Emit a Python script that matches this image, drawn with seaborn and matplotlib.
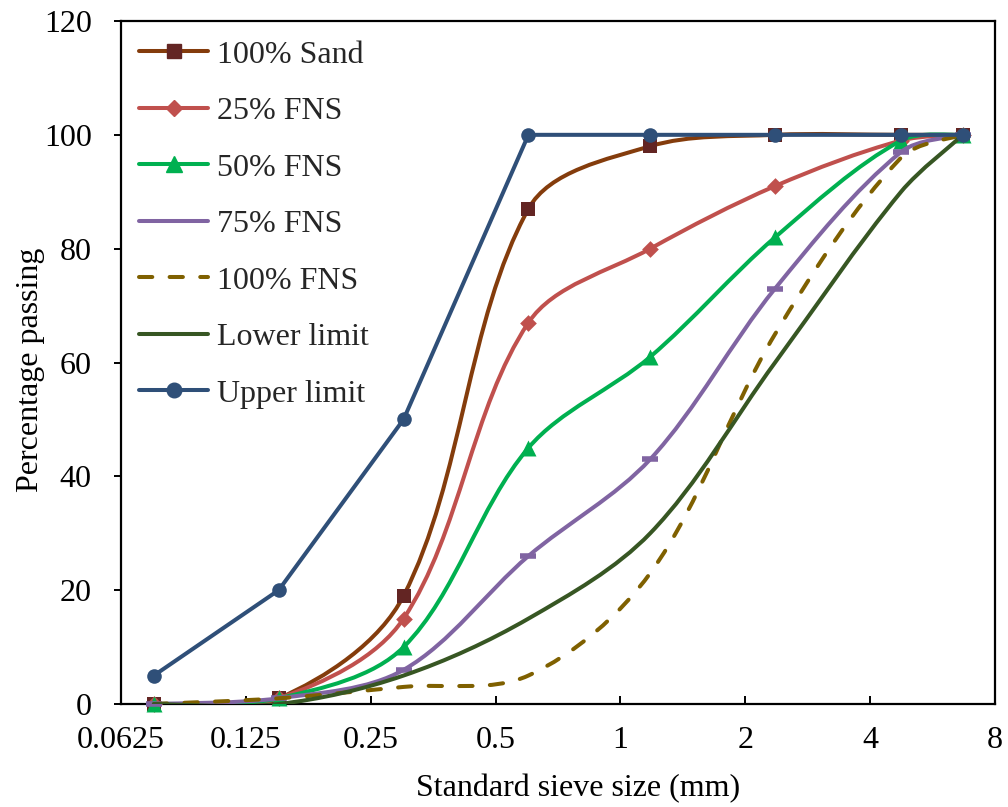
import numpy as np
import pandas as pd
import matplotlib
matplotlib.use("Agg")
import matplotlib.pyplot as plt
from matplotlib.path import Path
from matplotlib.patches import PathPatch
from matplotlib.lines import Line2D
import seaborn as sns

# ---------------- data ----------------
sieve_sizes = [0.075, 0.15, 0.3, 0.6, 1.18, 2.36, 4.75, 6.7]
sand_100 = [0, 1, 19, 87, 98, 100, 100, 100]
fns_25 = [0, 1, 15, 67, 80, 91, 99, 100]
fns_50 = [0, 1, 10, 45, 61, 82, 99, 100]
fns_75 = [0, 1, 6, 26, 43, 73, 97, 100]
fns_100 = [0, 1, 3, 5, 23, 65, 96, 100]
lower_limit = [0, 0, 5, 15, 30, 60, 90, 100]
upper_limit = [5, 20, 50, 100, 100, 100, 100, 100]

series_names = ["100% Sand", "25% FNS", "50% FNS", "75% FNS", "100% FNS",
                "Lower limit", "Upper limit"]
series_values = [sand_100, fns_25, fns_50, fns_75, fns_100, lower_limit, upper_limit]

x_ticks = [0.0625, 0.125, 0.25, 0.5, 1, 2, 4, 8]
x_tick_labels = ["0.0625", "0.125", "0.25", "0.5", "1", "2", "4", "8"]
y_ticks = [0, 20, 40, 60, 80, 100, 120]

# ---------------- styles ----------------
styles = {
    "100% Sand": dict(color="#843C0C", mcolor="#632523", marker="s", ms=10.5, smooth=True, ls="-"),
    "25% FNS": dict(color="#C0504D", mcolor="#C0504D", marker="D", ms=8.5, smooth=True, ls="-"),
    "50% FNS": dict(color="#00B050", mcolor="#00B050", marker="^", ms=11.5, smooth=True, ls="-"),
    "75% FNS": dict(color="#8064A2", mcolor="#8064A2", marker="_", ms=11, smooth=True, ls="-"),
    "100% FNS": dict(color="#7F6000", mcolor=None, marker=None, ms=0, smooth=True, ls="--"),
    "Lower limit": dict(color="#375623", mcolor=None, marker=None, ms=0, smooth=True, ls="-"),
    "Upper limit": dict(color="#2F4F78", mcolor="#2F4F78", marker="o", ms=10.5, smooth=False, ls="-"),
}

FS = 23
sns.set_theme(style="white")
plt.rcParams["font.family"] = ["Liberation Serif", "DejaVu Serif"]
plt.rcParams["mathtext.fontset"] = "stix"

fig = plt.figure(figsize=(10.08, 8.07), dpi=100)
ax = fig.add_axes([121 / 1008, 1 - 704 / 807, (995 - 121) / 1008, (704 - 21) / 807])
ax.set_xscale("log", base=2)
ax.set_xlim(0.0625, 8)
ax.set_ylim(0, 120)

LW = 2.9
DASH = (0, (3.3, 4.3))


def smooth_path(xs, ys):
    """Excel-like smoothed line: Bezier segments built in display space,
    returned as data-space vertices (control arms scaled by segment length)."""
    pts = ax.transData.transform(np.column_stack([xs, ys]).astype(float))
    n = len(pts)
    inv = ax.transData.inverted()
    verts = [pts[0]]
    codes = [Path.MOVETO]
    for i in range(n - 1):
        p1, p2 = pts[i], pts[i + 1]
        p0 = pts[i - 1] if i > 0 else p1
        p3 = pts[i + 2] if i + 2 < n else p2
        d01 = np.hypot(*(p1 - p0))
        d12 = np.hypot(*(p2 - p1))
        d23 = np.hypot(*(p3 - p2))
        s1 = 2 * d12 / (d01 + d12) if d01 > 0 else 1.0
        s2 = 2 * d12 / (d12 + d23) if d23 > 0 else 1.0
        c1 = p1 + (p2 - p0) / 6 * s1
        c2 = p2 - (p3 - p1) / 6 * s2
        verts += [c1, c2, p2]
        codes += [Path.CURVE4] * 3
    data_verts = inv.transform(np.array(verts))
    return Path(data_verts, codes)


handles = []
for k, (name, vals) in enumerate(zip(series_names, series_values)):
    st = styles[name]
    z = 3 + 2 * k
    df = pd.DataFrame({"size": sieve_sizes, "passing": vals})
    if st["smooth"]:
        patch = PathPatch(smooth_path(sieve_sizes, vals), facecolor="none",
                          edgecolor=st["color"], lw=LW, zorder=z,
                          capstyle="round", joinstyle="round")
        if st["ls"] == "--":
            patch.set_linestyle(DASH)
        ax.add_patch(patch)
    else:
        sns.lineplot(data=df, x="size", y="passing", ax=ax, color=st["color"],
                     lw=LW, zorder=z, legend=False, estimator=None, sort=False)
    if st["marker"] is not None:
        if st["marker"] == "_":
            ax.plot(df["size"], df["passing"], ls="none", marker="_",
                    ms=st["ms"], mew=4, color=st["mcolor"], zorder=z + 1, clip_on=False)
        else:
            sns.scatterplot(data=df, x="size", y="passing", ax=ax, marker=st["marker"],
                            s=st["ms"] ** 2, color=st["mcolor"], edgecolor=st["mcolor"],
                            linewidth=0, zorder=z + 1, clip_on=False, legend=False)
    if st["ls"] == "--":
        h = Line2D([], [], color=st["color"], lw=LW, linestyle=DASH,
                   dash_capstyle="round")
    else:
        leg_marker = st["marker"] if st["marker"] not in (None, "_") else None
        h = Line2D([], [], color=st["color"], lw=LW, marker=leg_marker,
                   ms=st["ms"], mfc=st["mcolor"], mec=st["mcolor"], solid_capstyle="round")
    handles.append(h)

ax.set_xticks(x_ticks)
ax.set_xticklabels(x_tick_labels)
ax.xaxis.set_minor_locator(matplotlib.ticker.NullLocator())
ax.set_yticks(y_ticks)

for sp in ax.spines.values():
    sp.set_visible(True)
    sp.set_color("black")
    sp.set_linewidth(1.6)

ax.tick_params(axis="x", direction="in", length=6, width=1.4, labelsize=FS, pad=16,
               colors="black", bottom=True)
ax.tick_params(axis="y", direction="out", length=5, width=1.4, labelsize=FS, pad=16,
               colors="black", left=True)

ax.set_xlabel("Standard sieve size (mm)", fontsize=FS, color="black")
ax.set_ylabel("Percentage passing", fontsize=FS, color="black")
ax.xaxis.set_label_coords(0.523, -0.103)
ax.yaxis.set_label_coords(-0.087, 0.49)

leg = ax.legend(handles, series_names, loc="upper left", frameon=False, fontsize=FS,
                handlelength=2.15, handletextpad=0.27, labelspacing=0.85,
                bbox_to_anchor=(-0.001, 1.0), borderaxespad=0.2)

fig.savefig("out.png", dpi=100)
